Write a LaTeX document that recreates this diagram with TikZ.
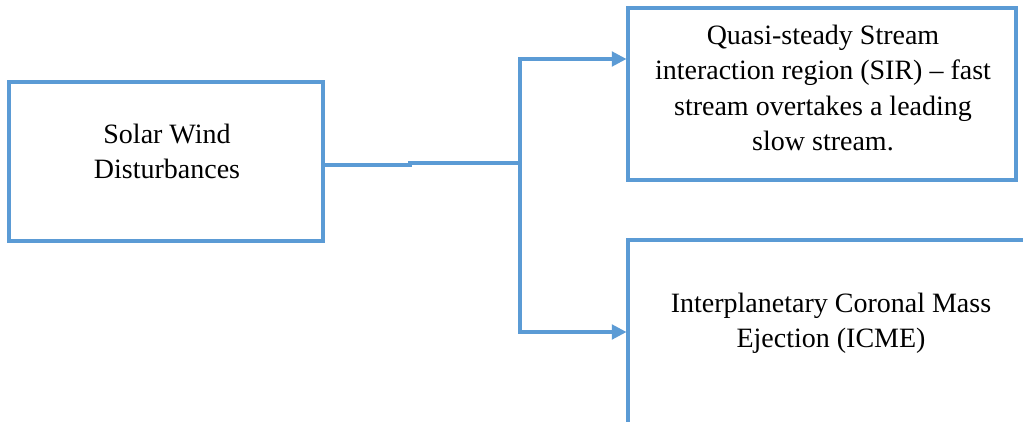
\documentclass[tikz,border=0pt]{standalone}
\usepackage{fontspec}
\setmainfont{Liberation Serif}
\usetikzlibrary{arrows.meta}
\definecolor{lineblue}{HTML}{5B9BD5}
\tikzset{
  boxshape/.style={draw=lineblue, line width=2.3pt, inner sep=0pt},
  boxtext/.style={align=center, inner sep=0pt, font=\fontsize{21}{26.3}\selectfont},
  conn/.style={draw=lineblue, line width=2.3pt},
  arrowconn/.style={conn, -{Triangle[length=11pt,width=11pt]}}
}
\begin{document}
\begin{tikzpicture}[x=0.75pt,y=-0.75pt]
\useasboundingbox (0,0) rectangle (1023,421);
\clip (0,0) rectangle (1023,421);
\fill[white] (0,0) rectangle (1023,421);
% boxes
\node[boxshape, minimum width=235.5pt, minimum height=119.25pt] (sw) at (166,161.5) {};
\node[boxshape, minimum width=291pt, minimum height=129pt] (sir) at (822,94) {};
\node[boxshape, minimum width=375pt, minimum height=225pt] (icme) at (878,390) {};
% texts
\node[boxtext] (swt) at (167,151) {Solar Wind\\Disturbances};
\node[boxtext] (sirt) at (823,88) {Quasi-steady Stream\\interaction region (SIR) – fast\\stream overtakes a leading\\slow stream.};
\node[boxtext] (icmet) at (831,323) {Interplanetary Coronal Mass\\Ejection (ICME)};
% connectors
\coordinate (j1) at (410,165);
\coordinate (j2) at (520,163);
\coordinate (t1) at (520,59);
\coordinate (t2) at (520,332);
\draw[conn] (sw.east |- j1) -- (j1) |- (j2);
\draw[arrowconn] (j2) -- (t1) -- (sir.west |- t1);
\draw[arrowconn] (j2) -- (t2) -- (icme.west |- t2);
\end{tikzpicture}
\end{document}
